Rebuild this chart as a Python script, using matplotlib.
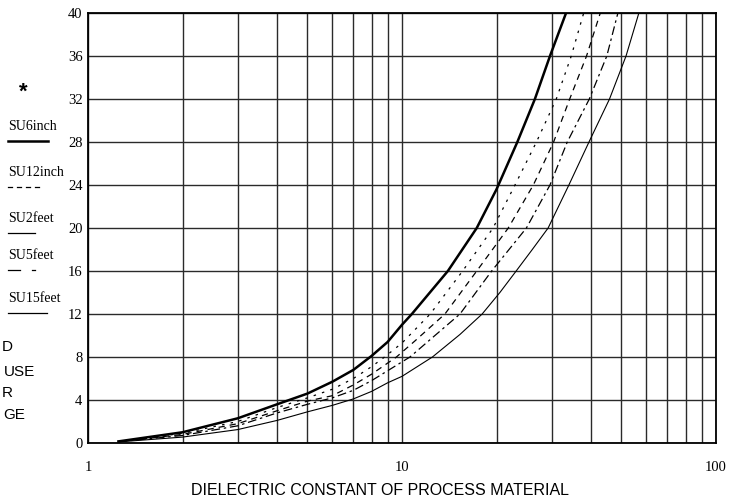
import numpy as np
import matplotlib.pyplot as plt
from matplotlib.lines import Line2D

W, H = 736, 498  # output size in pixels

# level vs dielectric constant
su6inch_x = [1.25, 2, 3, 4, 5, 6, 7, 8, 9, 10, 10.75, 14.0, 17.3, 20.0, 23.3, 26.5, 29.6, 33.3, 34.5]
su6inch_y = [0.15, 1.0, 2.3, 3.6, 4.6, 5.7, 6.8, 8.1, 9.4, 11.0, 12, 16, 20, 23.6, 28, 32, 36, 40, 41.5]

su12inch_x = [1.25, 2, 3, 4, 5, 6, 7, 8, 8.8, 10, 12.3, 15.6, 19.5, 22.9, 26.8, 31.0, 34.6, 37.9, 39.0]
su12inch_y = [0.15, 0.9, 2.0, 3.3, 4.2, 5.0, 6.0, 7.1, 8, 9.3, 12, 16, 20, 24, 28, 32, 36, 40, 41.5]

su2feet_x = [1.25, 2, 3, 4, 5, 6, 7, 8, 9.6, 11, 13.7, 17.3, 21.8, 26.2, 30.4, 34.2, 38.7, 42.8, 44.0]
su2feet_y = [0.12, 0.8, 1.8, 3.0, 3.9, 4.4, 5.4, 6.4, 8, 9.5, 12, 16, 20, 24, 28, 32, 36, 40, 41.5]

su5feet_x = [1.25, 2, 3, 4, 5, 6, 7, 8, 10.6, 12.5, 15.3, 19.3, 24.9, 29.6, 33.6, 39.5, 44.9, 48.7, 50.0]
su5feet_y = [0.12, 0.7, 1.6, 2.8, 3.6, 4.2, 4.9, 5.8, 8, 9.8, 12, 16, 20, 24, 28, 32, 36, 40, 41.5]

su15feet_x = [1.25, 2, 3, 4, 5, 6, 7, 8, 9, 10, 12.5, 15.3, 18.0, 20.5, 23.1, 26.0, 29.2, 34.0, 39.4, 45.8, 51.7, 56.8, 58.5]
su15feet_y = [0.1, 0.55, 1.25, 2.1, 2.9, 3.5, 4.1, 4.8, 5.6, 6.2, 8, 10.1, 12, 14, 16, 18, 20, 24, 28, 32, 36, 40, 41.5]

x_major = [1, 10, 100]
x_minor = [2, 3, 4, 5, 6, 7, 8, 9, 20, 30, 40, 50, 60, 70, 80, 90]
y_ticks = list(range(0, 41, 4))

serif = ['Liberation Serif', 'DejaVu Serif']
sans = ['Liberation Sans', 'DejaVu Sans']


def fx(p):
    return p / W


def fy(p):
    return 1 - p / H


fig = plt.figure(figsize=(W / 100, H / 100), dpi=100)
ax = fig.add_axes([fx(88), fy(443), 628 / W, 430 / H])
ax.set_xscale('log')
ax.set_xlim(1, 100)
ax.set_ylim(0, 40)

ax.set_xticks(x_major)
ax.set_xticklabels([str(v) for v in x_major])
ax.set_xticks(x_minor, minor=True)
ax.set_xticklabels([], minor=True)
ax.set_yticks(y_ticks)
ax.set_yticklabels([str(v) for v in y_ticks])
ax.tick_params(which='both', length=0)
ax.tick_params(axis='x', pad=13)
ax.tick_params(axis='y', pad=4)
for lab in ax.get_xticklabels() + ax.get_yticklabels():
    lab.set_fontfamily(serif)
    lab.set_fontsize(10.5)

ax.grid(True, which='both', axis='x', color='#2a2a2a', lw=1.0)
ax.grid(True, which='major', axis='y', color='#2a2a2a', lw=1.0)
ax.set_axisbelow(True)
for s in ax.spines.values():
    s.set_color('black')
    s.set_linewidth(1.3)

ax.plot(su6inch_x, su6inch_y, color='black', lw=1.8)
ax.plot(su12inch_x, su12inch_y, color='black', lw=0.9, ls=(0, (2, 5)))
ax.plot(su2feet_x, su2feet_y, color='black', lw=0.9, ls=(0, (5, 4)))
ax.plot(su5feet_x, su5feet_y, color='black', lw=0.9, ls=(0, (7, 3, 2, 3)))
ax.plot(su15feet_x, su15feet_y, color='black', lw=0.8)

# left-hand key (partly cut off in the original)
fig.text(fx(23), fy(92), '*', fontsize=16, fontweight='bold', family=sans,
         ha='center', va='center')
key = [
    ('SU6inch', 126, 141, [(8, 48)], 1.8),
    ('SU12inch', 172, 187, [(8, 12), (17, 21), (26, 30), (35, 39)], 0.9),
    ('SU2feet', 218, 233, [(8, 35)], 0.9),
    ('SU5feet', 255, 270, [(8, 20), (32, 35)], 0.9),
    ('SU15feet', 298, 313, [(8, 47)], 0.9),
]
for name, ty, ly, segs, lw in key:
    fig.text(fx(8), fy(ty), name, family=serif, fontsize=10, ha='left', va='center')
    for a, b in segs:
        fig.add_artist(Line2D([fx(a), fx(b)], [fy(ly), fy(ly)], color='black', lw=lw))

for txt, xl, yc in [('D', 2, 347), ('USE', 4, 372), ('R', 2, 393), ('GE', 3, 415)]:
    fig.text(fx(xl), fy(yc), txt, family=sans, fontsize=11, ha='left', va='center')

fig.text(fx(380), fy(490), 'DIELECTRIC CONSTANT OF PROCESS MATERIAL', family=sans,
         fontsize=11.5, ha='center', va='center')

fig.savefig('out.png', dpi=100)
